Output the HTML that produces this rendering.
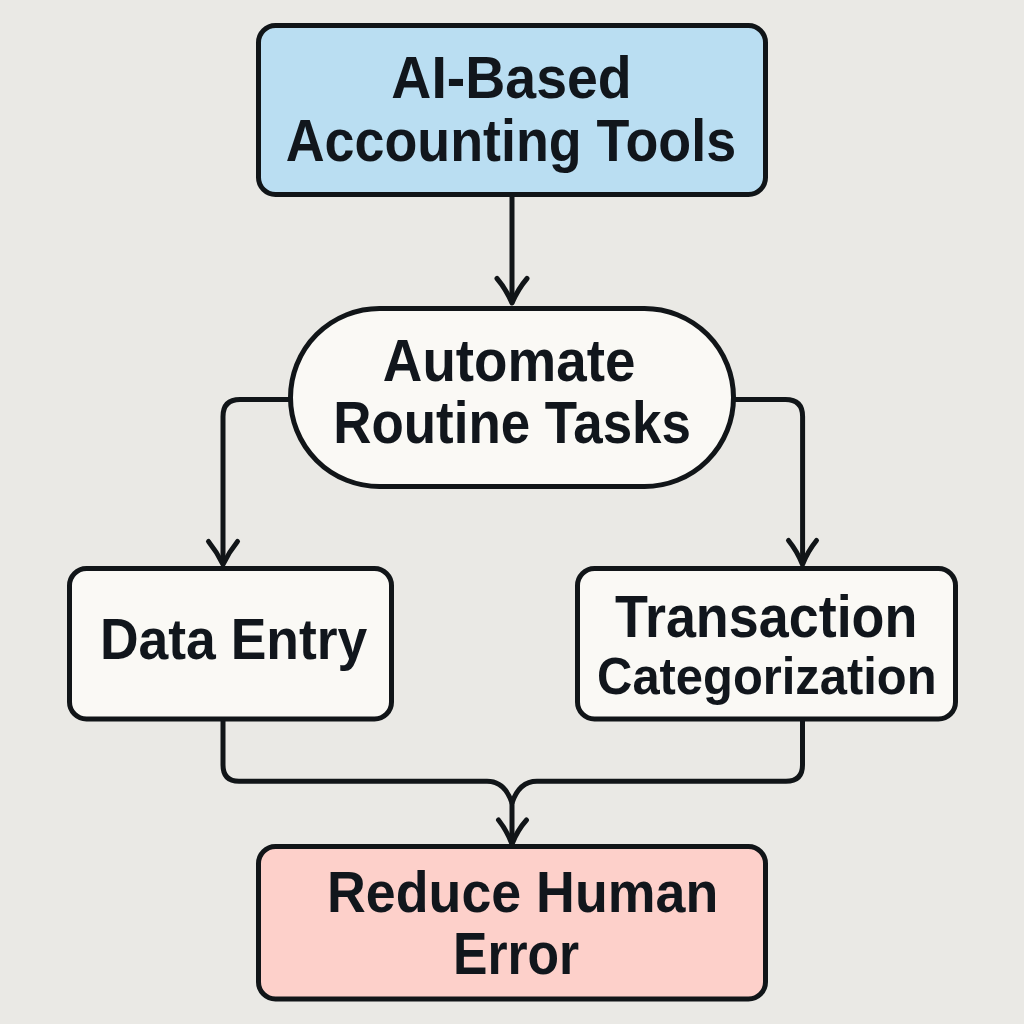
<!DOCTYPE html>
<html><head><meta charset="utf-8">
<style>
html,body{margin:0;padding:0;width:1024px;height:1024px;overflow:hidden;background:#eae9e5;}
svg{display:block;}
text{font-family:"Liberation Sans", sans-serif;font-weight:bold;fill:#11161c;}
</style></head>
<body>
<svg width="1024" height="1024" viewBox="0 0 1024 1024">
<rect x="0" y="0" width="1024" height="1024" fill="#eae9e5"/>
<g fill="none" stroke="#111518" stroke-width="5" stroke-linecap="round" stroke-linejoin="round">
  <!-- top arrow -->
  <path d="M512 197 V302"/>
  <path d="M497 278.5 Q506 289 512 303 Q518 289 527 278.5"/>
  <!-- left connector -->
  <path d="M290 399.5 H240 Q223 399.5 223 416.5 V563"/>
  <path d="M208.5 541.5 Q217 552 223 564.5 Q229 552 237.5 541.5"/>
  <!-- right connector -->
  <path d="M734 399.5 H785.5 Q802.6 399.5 802.6 416.5 V563"/>
  <path d="M788.5 540.5 Q797 551 802.5 564.5 Q808 551 816.5 540.5"/>
  <!-- bottom merge -->
  <path d="M223 721 V765 Q223 781.3 239 781.3 H487 C499 781.3 507 788 512 803 V843"/>
  <path d="M802.5 721 V765 Q802.5 781.3 786 781.3 H537 C525 781.3 517 788 512 803"/>
  <path d="M498.5 820 Q506.5 830 512 844 Q517.5 830 526.5 820"/>
</g>
<g stroke="#111518">
  <rect x="258.5" y="25.5" width="507" height="169" rx="17" fill="#badef2" stroke-width="5"/>
  <rect x="290.5" y="308.5" width="443" height="178" rx="89" fill="#faf9f5" stroke-width="5"/>
  <rect x="69.5" y="568.5" width="322" height="150.5" rx="17" fill="#faf9f5" stroke-width="5"/>
  <rect x="577.5" y="568.5" width="378" height="150.5" rx="17" fill="#faf9f5" stroke-width="5"/>
  <rect x="258.5" y="846.5" width="507" height="152.5" rx="17" fill="#fdd0ca" stroke-width="5"/>
</g>
<g>
<g transform="translate(391.36,97.60) scale(0.9353,1)"><text font-size="59.30" x="0" y="0">AI-Based</text></g>
<g transform="translate(285.69,160.60) scale(0.9120,1)"><text font-size="59.01" x="0" y="0">Accounting Tools</text></g>
<g transform="translate(382.86,381.30) scale(0.9352,1)"><text font-size="58.58" x="0" y="0">Automate</text></g>
<g transform="translate(333.20,443.40) scale(0.8990,1)"><text font-size="58.87" x="0" y="0">Routine Tasks</text></g>
<g transform="translate(99.93,658.60) scale(0.9241,1)"><text font-size="57.85" x="0" y="0">Data Entry</text></g>
<g transform="translate(615.00,636.90) scale(0.9109,1)"><text font-size="59.16" x="0" y="0">Transaction</text></g>
<g transform="translate(597.10,693.70) scale(0.9503,1)"><text font-size="51.45" x="0" y="0">Categorization</text></g>
<g transform="translate(327.00,911.80) scale(0.9319,1)"><text font-size="57.70" x="0" y="0">Reduce Human</text></g>
<g transform="translate(452.96,973.80) scale(0.8814,1)"><text font-size="58.58" x="0" y="0">Error</text></g>
</g>
</svg>
</body></html>
